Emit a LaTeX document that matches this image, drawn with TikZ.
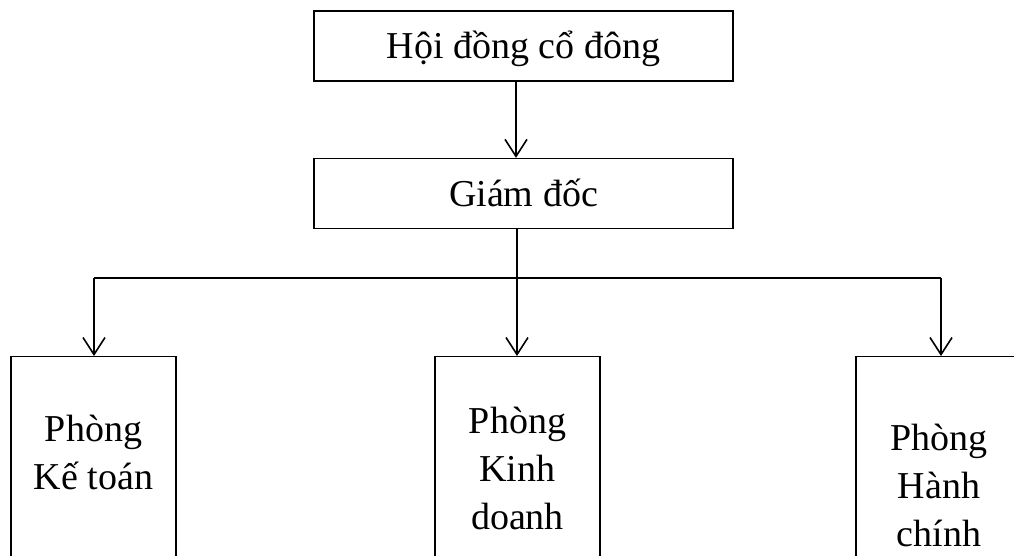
\documentclass[tikz,border=0pt]{standalone}
\usepackage{fontspec}
\setmainfont{Liberation Serif}
\usetikzlibrary{arrows.meta}
\begin{document}
\begin{tikzpicture}[x=1pt,y=-1pt,
  box/.style={draw,line width=1.3pt,inner sep=0pt},
  topbox/.style={box,minimum width=419pt,minimum height=70pt,
    font=\fontsize{38}{48}\selectfont,text height=35pt,text depth=9pt},
  dept/.style={box,anchor=north,minimum width=165pt,minimum height=260pt},
  lbl/.style={font=\fontsize{38}{48}\selectfont,align=center,inner sep=0pt},
  conn/.style={line width=1.6pt},
  arr/.style={conn,-{Straight Barb[length=17pt,width=22pt,line width=1.6pt]}}
]
\useasboundingbox (0,0) rectangle (1014,556);
\clip (0,0) rectangle (1014,556);

\node[topbox] (hd) at (523.5,46) {Hội đồng cổ đông};
\node[topbox] (gd) at (523.5,193.5) {Giám đốc};

\node[dept] (kt) at (93.5,356) {};
\node[dept] (kd) at (517.5,356) {};
\node[dept,minimum width=170pt] (hc) at (941,356) {};

\node[lbl] (ktt) at (93.5,452) {Phòng\\Kế toán};
\node[lbl] (kdt) at (517.5,468) {Phòng\\Kinh\\doanh};
\node[lbl] (hct) at (939,485) {Phòng\\Hành\\chính};

\coordinate (j) at (517,278);
\coordinate (jl) at (94,278);
\coordinate (jr) at (941,278);

\draw[arr] ([xshift=-7.5pt]hd.south) -- ([xshift=-7.5pt]gd.north);
\draw[conn] ([xshift=-6.5pt]gd.south) -- (j);
\draw[conn] (jl) -- (jr);
\draw[arr] (jl) -- (jl |- kt.north);
\draw[arr] (j) -- (j |- kd.north);
\draw[arr] (jr) -- (jr |- hc.north);
\end{tikzpicture}
\end{document}
